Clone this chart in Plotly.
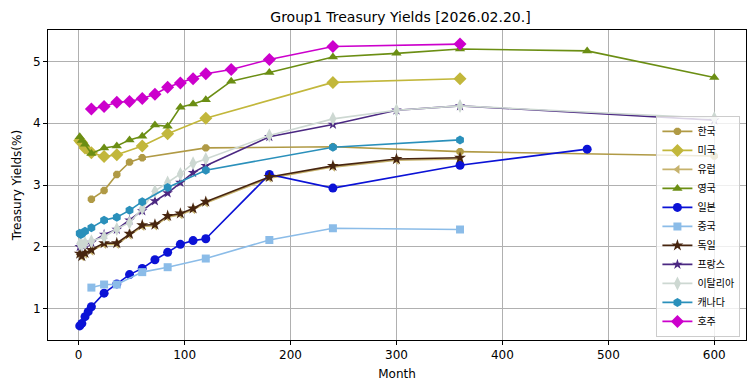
import plotly.graph_objects as go

names = ["한국", "미국", "유럽", "영국", "일본", "중국", "독일", "프랑스", "이탈리아", "캐나다", "호주"]

kr_m = [12, 24, 36, 48, 60, 120, 240, 360, 600]
kr_v = [2.77, 2.91, 3.17, 3.37, 3.44, 3.60, 3.62, 3.54, 3.47]

us_m = [1, 2, 3, 6, 12, 24, 36, 60, 84, 120, 240, 360]
us_v = [3.72, 3.70, 3.68, 3.60, 3.52, 3.46, 3.49, 3.63, 3.83, 4.08, 4.66, 4.72]

eu_m = [1, 3, 6, 12, 24, 36, 48, 60, 72, 84, 96, 108, 120, 180, 240, 300, 360]
eu_v = [1.87, 1.84, 1.88, 1.93, 2.04, 2.04, 2.19, 2.33, 2.34, 2.48, 2.52, 2.60, 2.71, 3.11, 3.29, 3.40, 3.42]

uk_m = [1, 3, 6, 12, 24, 36, 48, 60, 72, 84, 96, 108, 120, 144, 180, 240, 300, 360, 480, 600]
uk_v = [3.78, 3.72, 3.66, 3.51, 3.60, 3.63, 3.73, 3.79, 3.97, 3.95, 4.26, 4.31, 4.38, 4.68, 4.82, 5.07, 5.13, 5.20, 5.17, 4.74]

jp_m = [1, 3, 6, 9, 12, 24, 36, 48, 60, 72, 84, 96, 108, 120, 180, 240, 360, 480]
jp_v = [0.72, 0.76, 0.87, 0.95, 1.03, 1.25, 1.40, 1.55, 1.65, 1.79, 1.91, 2.04, 2.10, 2.13, 3.17, 2.95, 3.32, 3.58]

cn_m = [12, 24, 36, 60, 84, 120, 180, 240, 360]
cn_v = [1.34, 1.39, 1.39, 1.59, 1.67, 1.81, 2.11, 2.30, 2.28]

de_m = [1, 3, 6, 12, 24, 36, 48, 60, 72, 84, 96, 108, 120, 180, 240, 300, 360]
de_v = [1.89, 1.85, 1.90, 1.95, 2.06, 2.06, 2.21, 2.35, 2.36, 2.50, 2.54, 2.62, 2.73, 3.13, 3.31, 3.42, 3.44]

fr_m = [1, 3, 6, 12, 24, 36, 48, 60, 72, 84, 96, 108, 120, 180, 240, 300, 360, 600]
fr_v = [2.00, 2.02, 2.04, 2.07, 2.20, 2.28, 2.43, 2.58, 2.74, 2.87, 3.04, 3.20, 3.31, 3.78, 3.98, 4.21, 4.28, 4.05]

it_m = [1, 3, 6, 12, 24, 36, 48, 60, 72, 84, 96, 108, 120, 180, 240, 300, 360, 600]
it_v = [2.05, 2.03, 2.06, 2.09, 2.16, 2.29, 2.39, 2.62, 2.90, 3.04, 3.18, 3.35, 3.42, 3.80, 4.07, 4.21, 4.28, 4.08]

ca_m = [1, 2, 3, 6, 12, 24, 36, 48, 60, 84, 120, 240, 360]
ca_v = [2.22, 2.20, 2.21, 2.25, 2.31, 2.43, 2.48, 2.59, 2.73, 2.96, 3.24, 3.61, 3.73]

au_m = [12, 24, 36, 48, 60, 72, 84, 96, 108, 120, 144, 180, 240, 360]
au_v = [4.23, 4.27, 4.34, 4.35, 4.40, 4.47, 4.58, 4.65, 4.72, 4.80, 4.87, 5.03, 5.24, 5.28]

series = [
    (kr_m, kr_v, "#b09a45", "octagon", 8),
    (us_m, us_v, "#c2b73b", "diamond", 10),
    (eu_m, eu_v, "#c6b26c", "triangle-left", 8),
    (uk_m, uk_v, "#6b8e13", "triangle-up", 9),
    (jp_m, jp_v, "#0b12d6", "circle", 9),
    (cn_m, cn_v, "#8bbce8", "square", 8),
    (de_m, de_v, "#47250f", "star", 9),
    (fr_m, fr_v, "#4b2882", "star", 8),
    (it_m, it_v, "#cdd8d2", "diamond-tall", 10),
    (ca_m, ca_v, "#2a90bb", "hexagon", 9),
    (au_m, au_v, "#cc00cc", "diamond", 10),
]

fig = go.Figure()
for name, (m, v, c, sym, sz) in zip(names, series):
    fig.add_trace(go.Scatter(
        x=m, y=v, name=name, mode="lines+markers",
        line=dict(color=c, width=1.6),
        marker=dict(color=c, symbol=sym, size=sz),
    ))

allx = [x for s in series for x in s[0]]
ally = [y for s in series for y in s[1]]
xspan = max(allx) - min(allx)
yspan = max(ally) - min(ally)
xr = [min(allx) - 0.05 * xspan, max(allx) + 0.05 * xspan]
yr = [min(ally) - 0.05 * yspan, max(ally) + 0.05 * yspan]

font_main = "DejaVu Sans"
fig.update_layout(
    width=755, height=391,
    margin=dict(l=40, r=17, t=22, b=59, autoexpand=False),
    paper_bgcolor="white", plot_bgcolor="white",
    title=dict(text="Group1 Treasury Yields [2026.02.20.]", x=0.505, xref="paper", xanchor="center",
               y=1 - 9 / 391, yref="container", yanchor="middle",
               font=dict(family=font_main, size=14, color="black")),
    font=dict(family=font_main, size=12, color="black"),
    xaxis=dict(range=xr, tickvals=[0, 100, 200, 300, 400, 500, 600],
               showgrid=True, gridcolor="#b0b0b0", gridwidth=1,
               showline=True, linecolor="black", linewidth=1, mirror=True,
               ticks="outside", ticklen=4, tickcolor="black", zeroline=False,
               title=dict(text="Month", font=dict(size=12), standoff=8)),
    yaxis=dict(range=yr, tickvals=[1, 2, 3, 4, 5],
               showgrid=True, gridcolor="#b0b0b0", gridwidth=1,
               showline=True, linecolor="black", linewidth=1, mirror=True,
               ticks="outside", ticklen=4, tickcolor="black", zeroline=False,
               title=dict(text="Treasury Yields(%)", font=dict(size=12), standoff=8)),
    legend=dict(x=0.992, y=0.01, xanchor="right", yanchor="bottom",
                bgcolor="rgba(255,255,255,0.8)", bordercolor="#cccccc", borderwidth=1,
                font=dict(family="Noto Sans CJK KR", size=10), tracegroupgap=0,
                itemwidth=30),
)

fig.write_html("out.html")
